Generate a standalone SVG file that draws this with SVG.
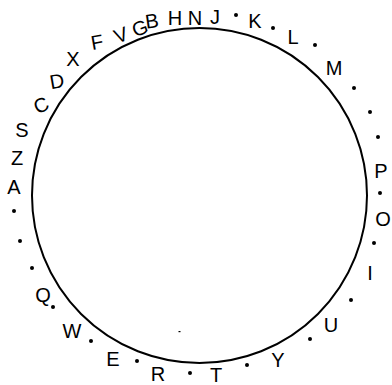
<svg xmlns="http://www.w3.org/2000/svg" width="392" height="385" viewBox="0 0 392 385">
<style>
text{font-family:"Liberation Sans",Arial,sans-serif;font-size:20px;fill:#000;text-anchor:middle}
.d{fill:#000}
</style>
<rect width="392" height="385" fill="#fff"/>
<g id="connectors">
<circle cx="199.5" cy="195.5" r="167.5" fill="none" stroke="#000" stroke-width="2"/>
<rect x="178.5" y="331" width="2" height="1.2" fill="#000"/>
</g>
<g id="letters">
<g id="A"><text x="14" y="194">A</text></g>
<g id="Z"><text x="17" y="165">Z</text></g>
<g id="S"><text x="22" y="137">S</text></g>
<g id="C"><text x="41" y="112" transform="rotate(-25 41 105)">C</text></g>
<g id="D"><text x="57" y="88" transform="rotate(-10 57 81)">D</text></g>
<g id="X"><text x="73" y="66">X</text></g>
<g id="F"><text x="97" y="49" transform="rotate(-10 97 42)">F</text></g>
<g id="V"><text x="121" y="42" transform="rotate(-20 121 35)">V</text></g>
<g id="G"><text x="140" y="35" transform="rotate(-20 140 28)">G</text></g>
<g id="B"><text x="152" y="28" transform="rotate(-8 152 21)">B</text></g>
<g id="H"><text x="175" y="25">H</text></g>
<g id="N"><text x="195" y="25">N</text></g>
<g id="J"><text x="215" y="24">J</text></g>
<g id="K"><text x="255" y="28">K</text></g>
<g id="L"><text x="293" y="44">L</text></g>
<g id="M"><text x="334" y="75">M</text></g>
<g id="P"><text x="381" y="178">P</text></g>
<g id="O"><text x="383" y="226">O</text></g>
<g id="I"><text x="370" y="280">I</text></g>
<g id="U"><text x="331" y="332">U</text></g>
<g id="Y"><text x="278" y="367">Y</text></g>
<g id="T"><text x="216" y="382">T</text></g>
<g id="R"><text x="158" y="381">R</text></g>
<g id="E"><text x="113" y="366">E</text></g>
<g id="W"><text x="72" y="338">W</text></g>
<g id="Q"><text x="43" y="302">Q</text></g>
</g>
<g id="dots" class="d">
<circle cx="236" cy="15" r="2"/>
<circle cx="273" cy="28" r="2"/>
<circle cx="315" cy="45" r="2"/>
<circle cx="354" cy="88" r="2"/>
<circle cx="370" cy="112" r="2"/>
<circle cx="378" cy="137" r="2"/>
<circle cx="380" cy="193" r="2"/>
<circle cx="374" cy="243" r="2"/>
<circle cx="351" cy="300" r="2"/>
<circle cx="310" cy="339" r="2"/>
<circle cx="247" cy="365" r="2"/>
<circle cx="190" cy="373" r="2"/>
<circle cx="137" cy="361" r="2"/>
<circle cx="91" cy="341" r="2"/>
<circle cx="53" cy="307" r="2"/>
<circle cx="32" cy="268" r="2"/>
<circle cx="20" cy="241" r="2"/>
<circle cx="14" cy="211" r="2"/>
</g>
</svg>
